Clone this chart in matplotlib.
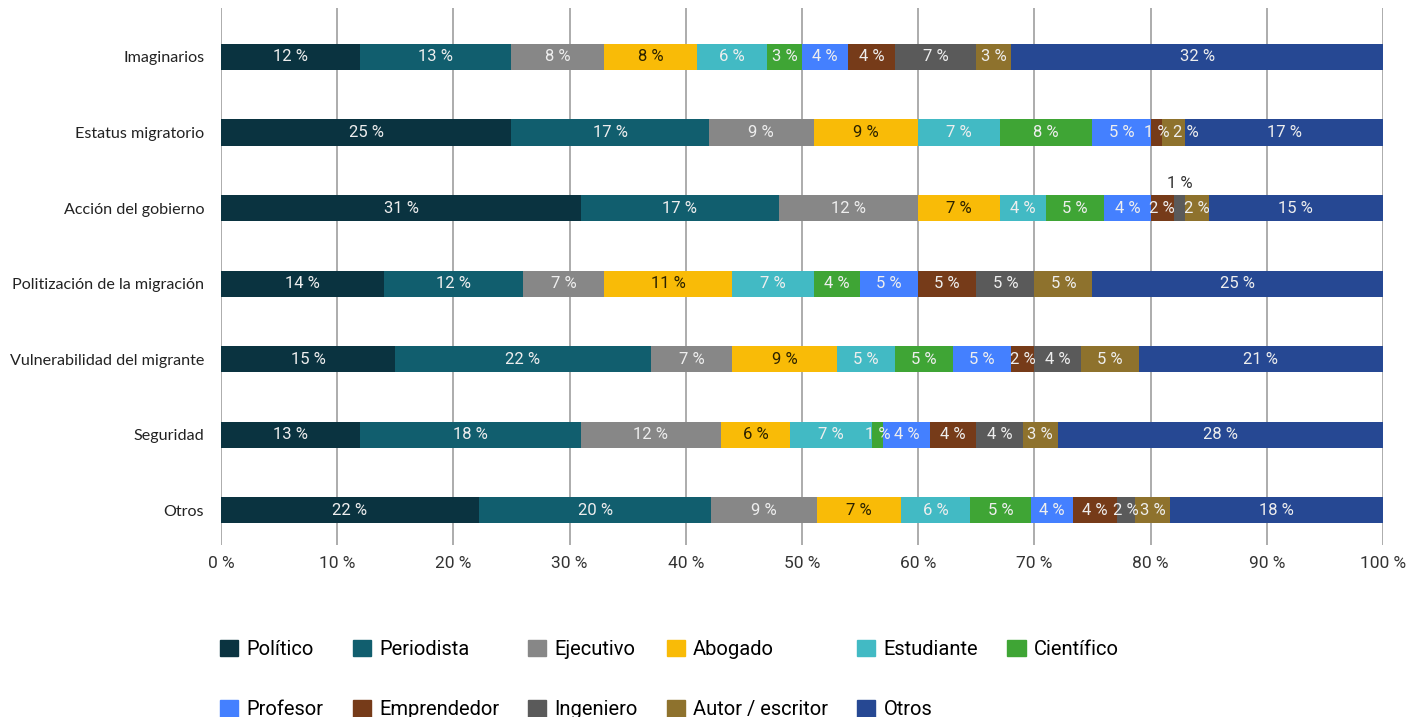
import matplotlib.pyplot as plt
from matplotlib.patches import Patch
import numpy as np

categories = ["Imaginarios", "Estatus migratorio", "Acción del gobierno",
              "Politización de la migración", "Vulnerabilidad del migrante",
              "Seguridad", "Otros"]

series_names = ["Político", "Periodista", "Ejecutivo", "Abogado", "Estudiante",
                "Científico", "Profesor", "Emprendedor", "Ingeniero",
                "Autor / escritor", "Otros"]

politico = [12, 25, 31, 14, 15, 12, 22.2]
periodista = [13, 17, 17, 12, 22, 19, 20.0]
ejecutivo = [8, 9, 12, 7, 7, 12, 9.1]
abogado = [8, 9, 7, 11, 9, 6, 7.2]
estudiante = [6, 7, 4, 7, 5, 7, 6.0]
cientifico = [3, 8, 5, 4, 5, 1, 5.2]
profesor = [4, 5, 4, 5, 5, 4, 3.6]
emprendedor = [4, 1, 2, 5, 2, 4, 3.8]
ingeniero = [7, 0, 1, 5, 4, 4, 1.6]
autor = [3, 2, 2, 5, 5, 3, 3.0]
otros = [32, 17, 15, 25, 21, 28, 18.3]

# labels printed in the source that differ from the bar widths
shown_labels = {(5, 0): "13 %", (5, 1): "18 %"}
# small horizontal nudges (in %) for crowded labels
label_shift = {(1, 9): 1.0}

colors = ["#0a3340", "#115e6e", "#878787", "#f9bb07", "#42bac4", "#3fa535",
          "#4480ff", "#763b19", "#5a5a5a", "#8e722d", "#264893"]

data = np.array([politico, periodista, ejecutivo, abogado, estudiante, cientifico,
                 profesor, emprendedor, ingeniero, autor, otros])

num_font = dict(family="Roboto")

fig = plt.figure(figsize=(14.16, 7.17), dpi=100)
ax = fig.add_axes([0.156, 0.24, 0.8207, 0.749])

y = np.arange(len(categories))
left = np.zeros(len(categories))
for i, name in enumerate(series_names):
    vals = data[i]
    ax.barh(y, vals, left=left, height=0.345, color=colors[i], label=name, zorder=3)
    for j, v in enumerate(vals):
        if v <= 0:
            continue
        txt = shown_labels.get((j, i), f"{v:.0f} %")
        cx = left[j] + v / 2 + label_shift.get((j, i), 0)
        if categories[j] == "Acción del gobierno" and name == "Ingeniero":
            ax.text(cx, j - 0.32, txt, ha="center", va="center", fontsize=12,
                    color="#333333", zorder=4, **num_font)
        else:
            tc = "#2b2200" if name == "Abogado" else "#eeeeee"
            ax.text(cx, j, txt, ha="center", va="center", fontsize=12,
                    color=tc, zorder=4, **num_font)
    left = left + vals

ax.set_xlim(0, 100)
ax.set_ylim(6.46, -0.65)
ax.set_xticks(np.arange(0, 101, 10))
ax.set_xticklabels([f"{t} %" for t in range(0, 101, 10)], fontsize=12.5,
                   color="#333333", **num_font)
ax.set_yticks(y)
ax.set_yticklabels(categories, fontsize=11.6, color="#222222", family="Lato")
ax.tick_params(axis="both", length=0)
ax.tick_params(axis="x", pad=8)
ax.tick_params(axis="y", pad=12)
ax.grid(axis="x", color="#a6a6a6", linewidth=1.3, zorder=0)
for s in ax.spines.values():
    s.set_visible(False)

handles = [Patch(color=c) for c in colors]
order = [0, 6, 1, 7, 2, 8, 3, 9, 4, 10, 5]
fig.legend([handles[k] for k in order], [series_names[k] for k in order],
           ncol=6, loc="upper left", bbox_to_anchor=(0.1485, 0.122), frameon=False,
           prop=dict(size=14.5, **num_font), handlelength=0.9, handleheight=0.9,
           handletextpad=0.4, columnspacing=1.45, labelspacing=2.05, borderpad=0)

fig.savefig("out.png", dpi=100)
